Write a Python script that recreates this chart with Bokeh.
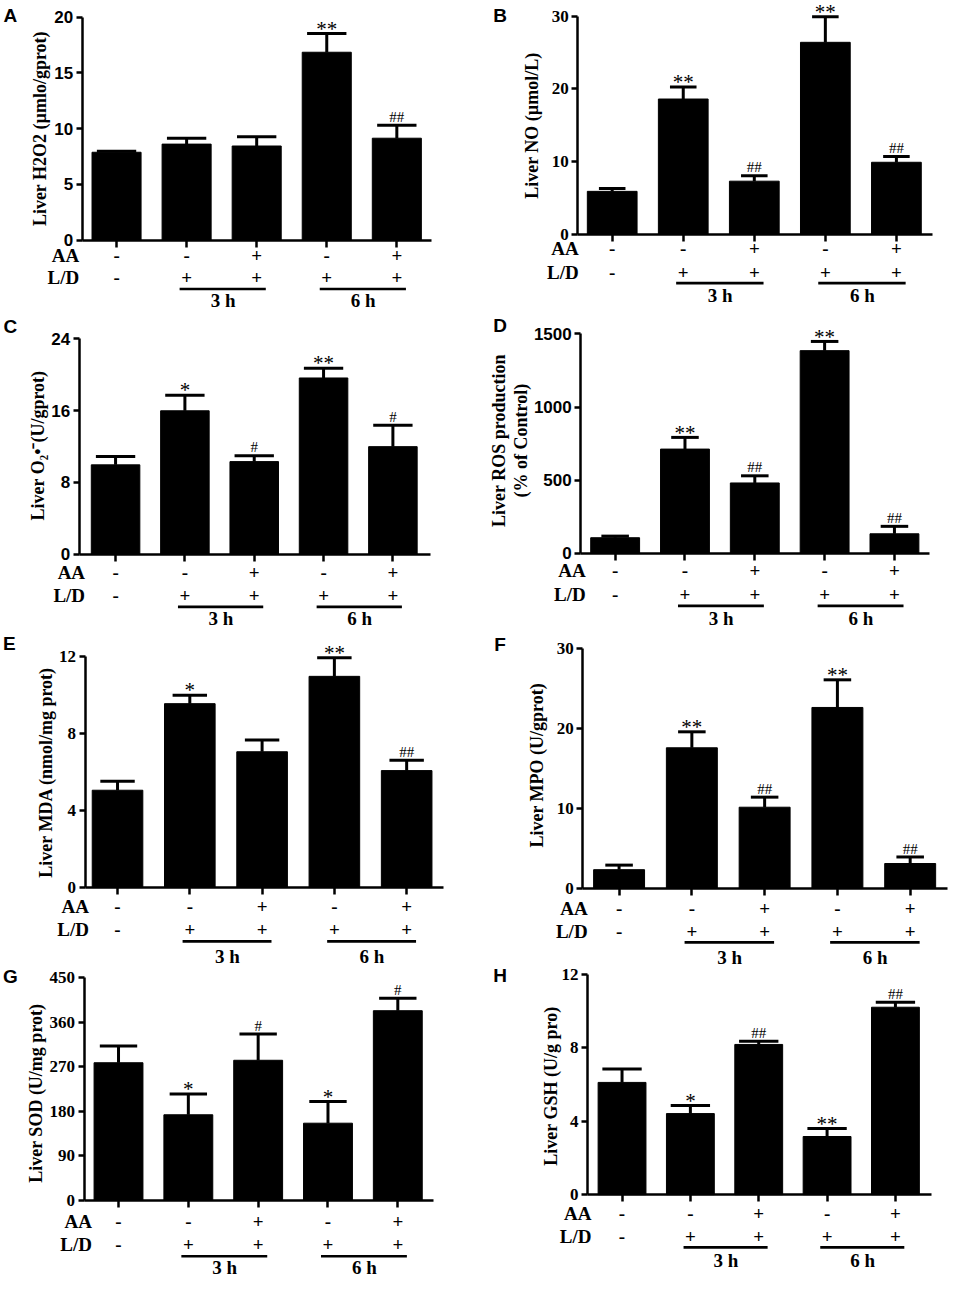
import math
from bokeh.plotting import figure
from bokeh.models import Range1d, LinearAxis, FixedTicker, CustomJSTickFormatter
from bokeh.embed import file_html
from bokeh.resources import INLINE
from bokeh.core.properties import value

# ---------------- data ----------------
groups = [1, 2, 3, 4, 5]
aa_row = ["-", "-", "+", "-", "+"]
ld_row = ["-", "+", "+", "+", "+"]
row_names = ["AA", "L/D"]
time_names = ["3 h", "6 h"]
time_groups = [[2, 3], [4, 5]]

h2o2_mean = [7.88, 8.61, 8.44, 16.85, 9.14]
h2o2_sem = [0.10, 0.53, 0.82, 1.69, 1.17]
h2o2_sig = ["", "", "", "**", "##"]
h2o2_ticks = [0, 5, 10, 15, 20]

no_mean = [5.9, 18.6, 7.3, 26.4, 9.9]
no_sem = [0.4, 1.65, 0.76, 3.5, 0.8]
no_sig = ["", "**", "##", "**", "##"]
no_ticks = [0, 10, 20, 30]

o2_mean = [9.95, 15.98, 10.31, 19.64, 11.98]
o2_sem = [0.94, 1.74, 0.66, 1.09, 2.4]
o2_sig = ["", "*", "#", "**", "#"]
o2_ticks = [0, 8, 16, 24]

ros_mean = [105, 712, 480, 1386, 132]
ros_sem = [11, 80, 49, 63, 51]
ros_sig = ["", "**", "##", "**", "##"]
ros_ticks = [0, 500, 1000, 1500]

mda_mean = [5.06, 9.56, 7.06, 10.98, 6.08]
mda_sem = [0.47, 0.44, 0.61, 0.97, 0.54]
mda_sig = ["", "*", "", "**", "##"]
mda_ticks = [0, 4, 8, 12]

mpo_mean = [2.36, 17.62, 10.18, 22.67, 3.13]
mpo_sem = [0.57, 2.0, 1.26, 3.46, 0.82]
mpo_sig = ["", "**", "##", "**", "##"]
mpo_ticks = [0, 10, 20, 30]

sod_mean = [278, 173, 283, 156, 383]
sod_sem = [34, 42, 53, 44, 25]
sod_sig = ["", "*", "#", "*", "#"]
sod_ticks = [0, 90, 180, 270, 360, 450]

gsh_mean = [6.12, 4.42, 8.19, 3.17, 10.22]
gsh_sem = [0.73, 0.44, 0.18, 0.44, 0.27]
gsh_sig = ["", "*", "##", "**", "##"]
gsh_ticks = [0, 4, 8, 12]

panels_data = [
    ("A", ["Liver H2O2 (\u00b5mlo/gprot)"], h2o2_mean, h2o2_sem, h2o2_sig, h2o2_ticks),
    ("B", ["Liver NO (\u00b5mol/L)"], no_mean, no_sem, no_sig, no_ticks),
    ("C", ["Liver O\u2082\u2022\u207b(U/gprot)"], o2_mean, o2_sem, o2_sig, o2_ticks),
    ("D", ["Liver ROS production", "(% of Control)"], ros_mean, ros_sem, ros_sig, ros_ticks),
    ("E", ["Liver MDA (nmol/mg prot)"], mda_mean, mda_sem, mda_sig, mda_ticks),
    ("F", ["Liver MPO (U/gprot)"], mpo_mean, mpo_sem, mpo_sig, mpo_ticks),
    ("G", ["Liver  SOD (U/mg prot)"], sod_mean, sod_sem, sod_sig, sod_ticks),
    ("H", ["Liver GSH (U/g pro)"], gsh_mean, gsh_sem, gsh_sig, gsh_ticks),
]

# ---------------- layout (reference pixel positions) ----------------
SANS = "Liberation Sans"
SERIF = "Liberation Serif"
layouts = [
    dict(let=(10, 15), ax=83, y0=245, yt=17, c1=118, dx=71.25, axend=438, labx=[40], laby=131,
         rowx=80, aay=261, ldy=283, liney=295, timey=307, cap=40, tickfont=SANS),
    dict(let=(508, 15), ax=587, y0=239, yt=16, c1=622, dx=72.25, axend=948, labx=[540], laby=128,
         rowx=588, aay=254, ldy=278, liney=289, timey=302, cap=27, tickfont=SERIF),
    dict(let=(10, 333), ax=80, y0=566, yt=346, c1=117, dx=70.5, axend=437, labx=[38], laby=455,
         rowx=86, aay=585, ldy=608, liney=620, timey=632, cap=40, tickfont=SANS),
    dict(let=(508, 332), ax=590, y0=565, yt=341, c1=625, dx=71, axend=945, labx=[507, 529], laby=450,
         rowx=595, aay=583, ldy=607, liney=619, timey=632, cap=28, tickfont=SANS),
    dict(let=(9, 657), ax=86, y0=907, yt=671, c1=119, dx=73.5, axend=450, labx=[46], laby=789,
         rowx=90, aay=926, ldy=950, liney=962, timey=978, cap=35, tickfont=SERIF),
    dict(let=(508, 658), ax=592, y0=908, yt=663, c1=629, dx=74, axend=963, labx=[546], laby=782,
         rowx=597, aay=928, ldy=952, liney=963, timey=979, cap=28, tickfont=SERIF),
    dict(let=(10, 998), ax=85, y0=1227, yt=999, c1=120, dx=71, axend=440, labx=[36], laby=1115,
         rowx=93, aay=1248, ldy=1272, liney=1284, timey=1295, cap=38, tickfont=SERIF),
    dict(let=(508, 997), ax=597, y0=1221, yt=996, c1=632, dx=69.5, axend=947, labx=[560], laby=1110,
         rowx=601, aay=1240, ldy=1264, liney=1275, timey=1288, cap=40, tickfont=SERIF),
]

REF_W, REF_H = 966, 1318
W, H = 950, 1289
FS_TABLE = 19
FS_TICK = 17

p = figure(width=W, height=H, x_range=Range1d(0, REF_W), y_range=Range1d(REF_H, 0),
           x_axis_type=None, y_axis_type=None, toolbar_location=None,
           output_backend="svg", min_border=0, title=None)
p.outline_line_color = None
p.background_fill_color = "white"
p.border_fill_color = "white"

extra_x = {}
extra_y = {}

def table_text(x, y, text, align, x_range_name="default"):
    p.text(x=x, y=y, text=text, x_range_name=x_range_name, text_align=align,
           text_baseline="middle", text_font=value(SERIF), text_font_style="bold",
           text_font_size="%dpx" % FS_TABLE, text_color="black")

for k, ((letter, lab_lines, mean, sem, sig, ticks), L) in enumerate(zip(panels_data, layouts)):
    xk, yk = "x%d" % k, "y%d" % k
    c1, dx = L["c1"], L["dx"]
    vmax = ticks[-1]
    Y0, Yt = L["y0"], L["yt"]
    u = vmax / (Y0 - Yt)
    extra_x[xk] = Range1d(1 - c1 / dx, 1 + (REF_W - c1) / dx)
    extra_y[yk] = Range1d((Y0 - REF_H) * u, Y0 * u)

    tops = [m + e for m, e in zip(mean, sem)]
    # bars
    p.vbar(x=groups, top=mean, bottom=0, width=0.70, x_range_name=xk, y_range_name=yk,
           fill_color="black", line_color="black", line_width=1)
    # error bars
    p.segment(x0=groups, y0=mean, x1=groups, y1=tops, x_range_name=xk, y_range_name=yk,
              line_color="black", line_width=3)
    hw = L["cap"] / dx / 2
    p.segment(x0=[g - hw for g in groups], y0=tops, x1=[g + hw for g in groups], y1=tops,
              x_range_name=xk, y_range_name=yk, line_color="black", line_width=3)
    # significance marks
    star_x = [g for g, s_ in zip(groups, sig) if s_.startswith("*")]
    star_y = [t + 5 * u for t, s_ in zip(tops, sig) if s_.startswith("*")]
    star_t = [s_ for s_ in sig if s_.startswith("*")]
    if star_x:
        p.text(x=star_x, y=star_y, text=star_t, x_range_name=xk, y_range_name=yk,
               text_align="center", text_baseline="alphabetic", text_font=value(SERIF),
               text_font_size="21px", text_color="black")
    hash_x = [g for g, s_ in zip(groups, sig) if s_.startswith("#")]
    hash_y = [t + 8.5 * u for t, s_ in zip(tops, sig) if s_.startswith("#")]
    hash_t = [s_ for s_ in sig if s_.startswith("#")]
    if hash_x:
        p.text(x=hash_x, y=hash_y, text=hash_t, x_range_name=xk, y_range_name=yk,
               text_align="center", text_baseline="alphabetic", text_font=value(SERIF),
               text_font_size="15px", text_color="black")

    # y axis
    yax = LinearAxis(y_range_name=yk, fixed_location=L["ax"], bounds=(0, vmax),
                     ticker=FixedTicker(ticks=ticks), axis_label=None)
    yax.axis_line_width = 2.5
    yax.axis_line_color = "black"
    yax.major_tick_line_width = 2.5
    yax.major_tick_out = 6
    yax.major_tick_in = 0
    yax.minor_tick_line_color = None
    yax.major_label_text_font = L["tickfont"]
    yax.major_label_text_font_style = "bold"
    yax.major_label_text_font_size = "%dpx" % FS_TICK
    yax.major_label_text_color = "black"
    yax.major_label_standoff = 3
    p.add_layout(yax, "left")

    # x axis (baseline with ticks)
    xax = LinearAxis(x_range_name=xk, fixed_location=Y0,
                     bounds=(1 + (L["ax"] - c1) / dx, 1 + (L["axend"] - c1) / dx),
                     ticker=FixedTicker(ticks=groups), axis_label=None,
                     formatter=CustomJSTickFormatter(code="return ''"))
    xax.axis_line_width = 2.5
    xax.axis_line_color = "black"
    xax.major_tick_line_width = 2.5
    xax.major_tick_out = 7
    xax.major_tick_in = 0
    xax.minor_tick_line_color = None
    xax.major_label_text_font_size = "1px"
    xax.major_label_standoff = 0
    p.add_layout(xax, "below")

    # panel letter
    lx, ly = L["let"]
    p.text(x=[lx], y=[ly], text=[letter], text_align="center", text_baseline="middle",
           text_font=value(SANS), text_font_style="bold", text_font_size="19px", text_color="black")

    # y-axis label
    for lxx, line in zip(L["labx"], lab_lines):
        p.text(x=[lxx], y=[L["laby"]], text=[line], angle=math.pi / 2, text_align="center",
               text_baseline="middle", text_font=value(SERIF), text_font_style="bold",
               text_font_size="18px", text_color="black")

    # treatment table (y positions are glyph centres)
    table_text([L["rowx"], L["rowx"]], [L["aay"], L["ldy"]], row_names, "right")
    table_text(groups, [L["aay"]] * 5, aa_row, "center", xk)
    table_text(groups, [L["ldy"]] * 5, ld_row, "center", xk)
    p.segment(x0=[g[0] - 0.1 for g in time_groups], x1=[g[1] + 0.13 for g in time_groups],
              y0=[L["liney"]] * 2, y1=[L["liney"]] * 2, x_range_name=xk,
              line_color="black", line_width=2.7)
    table_text([(g[0] + g[1]) / 2 + 0.02 for g in time_groups], [L["timey"]] * 2,
               time_names, "center", xk)

p.extra_x_ranges = extra_x
p.extra_y_ranges = extra_y

open("out.html", "w").write(file_html(p, INLINE))
